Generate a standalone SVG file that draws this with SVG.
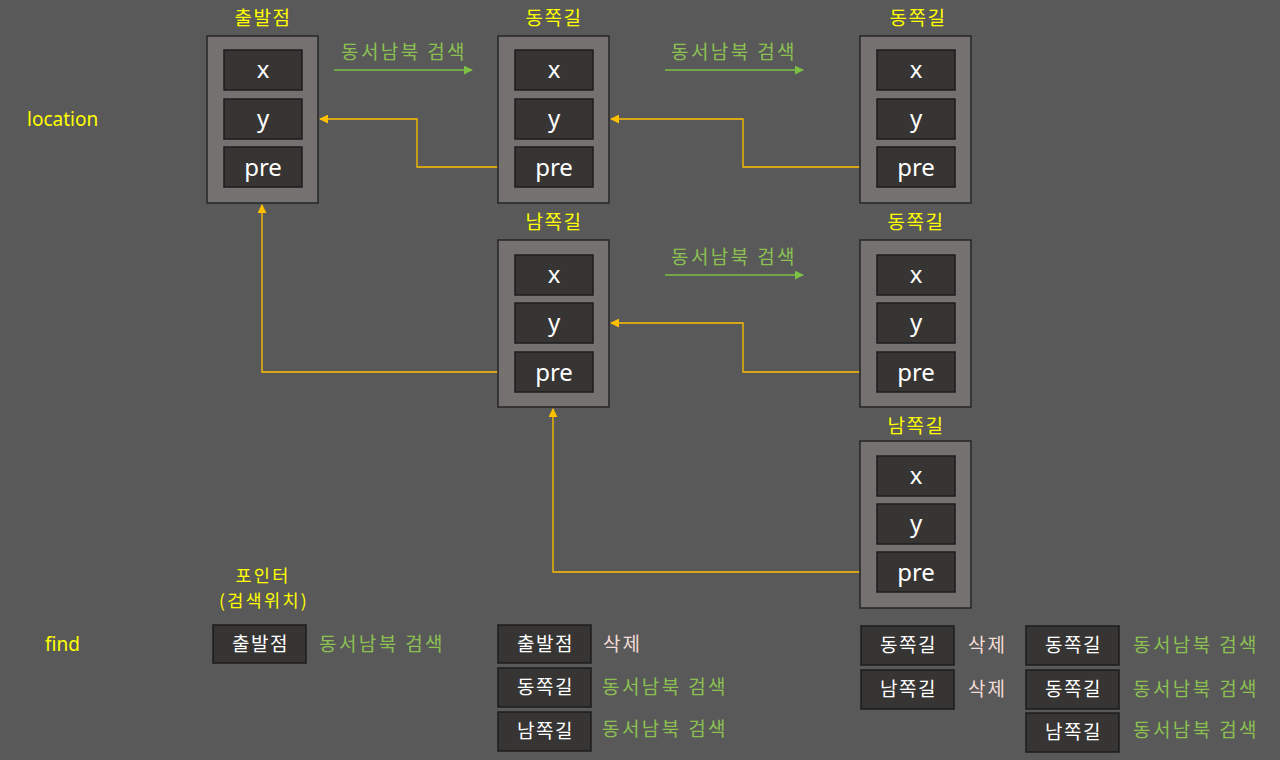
<svg xmlns="http://www.w3.org/2000/svg" width="1280" height="760" viewBox="0 0 1280 760">
<style>
.bg{fill:#595959}
.outer{fill:#747170;stroke:#262626;stroke-width:1.5}
.cell{fill:#363534;stroke:#1c1c1c;stroke-width:1.5}
.ct{font-family:"Noto Sans","Noto Sans CJK KR",sans-serif;font-size:24px;fill:#ffffff;text-anchor:middle}
.title{font-family:"Noto Sans CJK KR",sans-serif;font-weight:400;font-size:19px;letter-spacing:1.5px;fill:#ffff00;text-anchor:middle}
.ptr{font-family:"Noto Sans CJK KR",sans-serif;font-weight:400;font-size:17.5px;letter-spacing:2.3px;fill:#ffff00;text-anchor:middle}
.lbl{font-family:"Noto Sans","Noto Sans CJK KR",sans-serif;font-size:19px;fill:#ffff00}
.green{font-family:"Noto Sans CJK KR",sans-serif;font-weight:400;font-size:19px;letter-spacing:2.4px;fill:#8cc152}
.del{font-family:"Noto Sans CJK KR",sans-serif;font-weight:400;font-size:19px;letter-spacing:2px;fill:#f2dcd6}
.bt{font-family:"Noto Sans CJK KR",sans-serif;font-weight:400;font-size:19px;letter-spacing:1.5px;fill:#ffffff;text-anchor:middle}
.conn{fill:none;stroke:#ffc000;stroke-width:1.3}
.garr{fill:none;stroke:#7cc144;stroke-width:1.3}
</style>
<defs>
<marker id="ya" viewBox="0 0 10 10" refX="9" refY="5" markerWidth="9" markerHeight="9" markerUnits="userSpaceOnUse" orient="auto"><path d="M0,0 L10,5 L0,10 z" fill="#ffc000"/></marker>
<marker id="ga" viewBox="0 0 10 10" refX="9" refY="5" markerWidth="9" markerHeight="9" markerUnits="userSpaceOnUse" orient="auto"><path d="M0,0 L10,5 L0,10 z" fill="#7cc144"/></marker>
</defs>
<rect class="bg" x="0" y="0" width="1280" height="760"/>

<text class="lbl" x="27" y="126">location</text>
<text class="lbl" x="45" y="651">find</text>

<g id="connectors">
<path class="conn" d="M515 167 H417 V119 H320" marker-end="url(#ya)"/>
<path class="conn" d="M877 167 H743 V119 H611" marker-end="url(#ya)"/>
<path class="conn" d="M515 372 H262 V205" marker-end="url(#ya)"/>
<path class="conn" d="M877 372 H743 V323 H611" marker-end="url(#ya)"/>
<path class="conn" d="M877 572 H553 V409" marker-end="url(#ya)"/>
<path class="garr" d="M334 70 H472" marker-end="url(#ga)"/>
<path class="garr" d="M665 70 H803" marker-end="url(#ga)"/>
<path class="garr" d="M665 275 H803" marker-end="url(#ga)"/>
</g>

<g id="search-labels">
<text class="green" x="341" y="59">동서남북 검색</text>
<text class="green" x="671" y="59">동서남북 검색</text>
<text class="green" x="671" y="264">동서남북 검색</text>
</g>

<g id="node-start">
<text class="title" x="263" y="25">출발점</text>
<rect class="outer" x="207" y="36" width="111" height="167"/>
<rect class="cell" x="224" y="50" width="78" height="40"/><text class="ct" x="263" y="78">x</text>
<rect class="cell" x="224" y="99" width="78" height="40"/><text class="ct" x="263" y="127">y</text>
<rect class="cell" x="224" y="147" width="78" height="40"/><text class="ct" x="263" y="176">pre</text>
</g>

<g id="node-east1">
<text class="title" x="554" y="25">동쪽길</text>
<rect class="outer" x="498" y="36" width="111" height="167"/>
<rect class="cell" x="515" y="50" width="78" height="40"/><text class="ct" x="554" y="78">x</text>
<rect class="cell" x="515" y="99" width="78" height="40"/><text class="ct" x="554" y="127">y</text>
<rect class="cell" x="515" y="147" width="78" height="40"/><text class="ct" x="554" y="176">pre</text>
</g>

<g id="node-east2">
<text class="title" x="918" y="25">동쪽길</text>
<rect class="outer" x="860" y="36" width="111" height="167"/>
<rect class="cell" x="877" y="50" width="78" height="40"/><text class="ct" x="916" y="78">x</text>
<rect class="cell" x="877" y="99" width="78" height="40"/><text class="ct" x="916" y="127">y</text>
<rect class="cell" x="877" y="147" width="78" height="40"/><text class="ct" x="916" y="176">pre</text>
</g>

<g id="node-south1">
<text class="title" x="554" y="229">남쪽길</text>
<rect class="outer" x="498" y="240" width="111" height="167"/>
<rect class="cell" x="515" y="255" width="78" height="40"/><text class="ct" x="554" y="283">x</text>
<rect class="cell" x="515" y="303" width="78" height="40"/><text class="ct" x="554" y="331">y</text>
<rect class="cell" x="515" y="352" width="78" height="40"/><text class="ct" x="554" y="381">pre</text>
</g>

<g id="node-east3">
<text class="title" x="916" y="229">동쪽길</text>
<rect class="outer" x="860" y="240" width="111" height="167"/>
<rect class="cell" x="877" y="255" width="78" height="40"/><text class="ct" x="916" y="283">x</text>
<rect class="cell" x="877" y="303" width="78" height="40"/><text class="ct" x="916" y="331">y</text>
<rect class="cell" x="877" y="352" width="78" height="40"/><text class="ct" x="916" y="381">pre</text>
</g>

<g id="node-south2">
<text class="title" x="916" y="433">남쪽길</text>
<rect class="outer" x="860" y="441" width="111" height="167"/>
<rect class="cell" x="877" y="456" width="78" height="40"/><text class="ct" x="916" y="484">x</text>
<rect class="cell" x="877" y="504" width="78" height="40"/><text class="ct" x="916" y="532">y</text>
<rect class="cell" x="877" y="552" width="78" height="40"/><text class="ct" x="916" y="581">pre</text>
</g>

<g id="pointer">
<text class="ptr" x="263" y="582">포인터</text>
<text class="ptr" x="264" y="607">(검색위치)</text>
<rect class="cell" x="213" y="625" width="93" height="38"/><text class="bt" x="260.5" y="651">출발점</text>
<text class="green" x="319" y="651">동서남북 검색</text>
</g>

<g id="queue-1">
<rect class="cell" x="498" y="625" width="93" height="38"/><text class="bt" x="545.5" y="651">출발점</text>
<text class="del" x="603" y="651">삭제</text>
<rect class="cell" x="498" y="668" width="93" height="39"/><text class="bt" x="545.5" y="694">동쪽길</text>
<text class="green" x="602" y="694">동서남북 검색</text>
<rect class="cell" x="498" y="712" width="93" height="39"/><text class="bt" x="545.5" y="738">남쪽길</text>
<text class="green" x="602" y="736">동서남북 검색</text>
</g>

<g id="queue-2">
<rect class="cell" x="861" y="626" width="93" height="39"/><text class="bt" x="908.5" y="652">동쪽길</text>
<text class="del" x="968" y="652">삭제</text>
<rect class="cell" x="861" y="670" width="93" height="39"/><text class="bt" x="908.5" y="696">남쪽길</text>
<text class="del" x="968" y="696">삭제</text>
</g>

<g id="queue-3">
<rect class="cell" x="1026" y="626" width="93" height="39"/><text class="bt" x="1073.5" y="652">동쪽길</text>
<text class="green" x="1133" y="652">동서남북 검색</text>
<rect class="cell" x="1026" y="670" width="93" height="39"/><text class="bt" x="1073.5" y="696">동쪽길</text>
<text class="green" x="1133" y="696">동서남북 검색</text>
<rect class="cell" x="1026" y="713" width="93" height="39"/><text class="bt" x="1073.5" y="739">남쪽길</text>
<text class="green" x="1133" y="737">동서남북 검색</text>
</g>
</svg>
